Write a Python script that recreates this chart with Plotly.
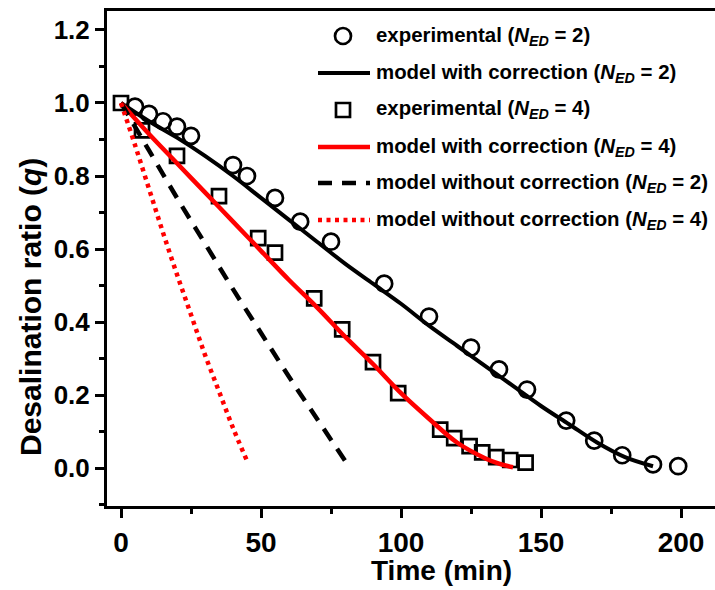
import plotly.graph_objects as go

# ---- data -------------------------------------------------------------
# experimental desalination ratio, N_ED = 2
t_exp2 = [5, 10, 15, 20, 25, 40, 45, 55, 64, 75, 94, 110, 125, 135, 145, 159, 169, 179, 190, 199]
q_exp2 = [0.99, 0.97, 0.95, 0.935, 0.91, 0.83, 0.80, 0.74, 0.675, 0.62, 0.505, 0.415,
          0.33, 0.27, 0.215, 0.13, 0.075, 0.035, 0.01, 0.005]

# experimental desalination ratio, N_ED = 4
t_exp4 = [0, 7.5, 20, 35, 49, 55, 69, 79, 90, 99, 114, 119, 124.5, 129, 134, 139, 144.5]
q_exp4 = [1.0, 0.925, 0.855, 0.745, 0.63, 0.59, 0.465, 0.38, 0.29, 0.205, 0.105, 0.082,
          0.06, 0.043, 0.03, 0.022, 0.015]

# model with correction, N_ED = 2
t_mc2 = [0, 10, 20, 30, 40, 50, 60, 70, 80, 90, 100, 110, 120, 130, 140, 150, 160, 170, 180, 190]
q_mc2 = [1.0, 0.95, 0.905, 0.855, 0.80, 0.74, 0.68, 0.62, 0.56, 0.505, 0.45, 0.39,
         0.335, 0.28, 0.225, 0.17, 0.12, 0.07, 0.03, 0.005]

# model with correction, N_ED = 4
t_mc4 = [0, 10, 20, 30, 40, 50, 60, 70, 80, 90, 100, 110, 120, 130, 135, 140]
q_mc4 = [1.0, 0.915, 0.835, 0.755, 0.675, 0.595, 0.515, 0.44, 0.36, 0.285, 0.205,
         0.135, 0.07, 0.027, 0.012, 0.002]

# model without correction, N_ED = 2
t_mn2 = [0, 10, 20, 30, 40, 50, 60, 70, 80]
q_mn2 = [1.0, 0.87, 0.74, 0.615, 0.49, 0.37, 0.25, 0.135, 0.02]

# model without correction, N_ED = 4
t_mn4 = [0, 5, 10, 15, 20, 25, 30, 35, 40, 45]
q_mn4 = [1.0, 0.885, 0.765, 0.645, 0.53, 0.42, 0.31, 0.21, 0.11, 0.02]

legend_labels = [
    "experimental (<i>N</i><sub><i>ED</i></sub> = 2)",
    "model with correction (<i>N</i><sub><i>ED</i></sub> = 2)",
    "experimental (<i>N</i><sub><i>ED</i></sub> = 4)",
    "model with correction (<i>N</i><sub><i>ED</i></sub> = 4)",
    "model without correction (<i>N</i><sub><i>ED</i></sub> = 2)",
    "model without correction (<i>N</i><sub><i>ED</i></sub> = 4)",
]

x_ticks = [0, 50, 100, 150, 200]
y_ticks = [0.0, 0.2, 0.4, 0.6, 0.8, 1.0, 1.2]
y_ticktext = ["0.0", "0.2", "0.4", "0.6", "0.8", "1.0", "1.2"]

FONT = "Liberation Sans, Arial, sans-serif"
RED = "#ff0000"

# ---- styles per series --------------------------------------------------
circle_style = dict(symbol="circle-open", size=16, color="black", line=dict(width=2.7))
square_style = dict(symbol="square-open", size=14, color="black", line=dict(width=2.7))
solid_black = dict(color="black", width=4)
solid_red = dict(color=RED, width=4.5)
dash_black = dict(color="black", width=4.5, dash="14px,10px")
dot_red = dict(color=RED, width=4.5, dash="4px,4.5px")

fig = go.Figure()

fig.add_trace(go.Scatter(x=t_exp2, y=q_exp2, mode="markers", marker=circle_style))
fig.add_trace(go.Scatter(x=t_mc2, y=q_mc2, mode="lines", line=dict(shape="spline", **solid_black)))
fig.add_trace(go.Scatter(x=t_exp4, y=q_exp4, mode="markers", marker=square_style))
fig.add_trace(go.Scatter(x=t_mc4, y=q_mc4, mode="lines", line=dict(shape="spline", **solid_red)))
fig.add_trace(go.Scatter(x=t_mn2, y=q_mn2, mode="lines", line=dict(shape="spline", **dash_black)))
fig.add_trace(go.Scatter(x=t_mn4, y=q_mn4, mode="lines", line=dict(shape="spline", **dot_red)))

# ---- legend drawn on an overlay axis in plot-fraction units -------------
W, H = 715, 590
L, R, T, B = 107, 0, 11, 84
pw, ph = W - L - R, H - T - B


def fx(px):
    return (px - L) / pw


def fy(py):
    return (H - B - py) / ph


row_y = [36, 73, 110, 147, 183, 220]
line_x0, line_x1, mark_x, text_x = 318, 370, 343, 374

fig.add_trace(go.Scatter(x=[fx(mark_x)], y=[fy(row_y[0])], mode="markers",
                         marker=circle_style, xaxis="x2", yaxis="y2"))
fig.add_trace(go.Scatter(x=[fx(line_x0), fx(line_x1)], y=[fy(row_y[1])] * 2, mode="lines",
                         line=solid_black, xaxis="x2", yaxis="y2"))
fig.add_trace(go.Scatter(x=[fx(mark_x)], y=[fy(row_y[2])], mode="markers",
                         marker=square_style, xaxis="x2", yaxis="y2"))
fig.add_trace(go.Scatter(x=[fx(line_x0), fx(line_x1)], y=[fy(row_y[3])] * 2, mode="lines",
                         line=solid_red, xaxis="x2", yaxis="y2"))
fig.add_trace(go.Scatter(x=[fx(line_x0), fx(line_x1)], y=[fy(row_y[4])] * 2, mode="lines",
                         line=dash_black, xaxis="x2", yaxis="y2"))
fig.add_trace(go.Scatter(x=[fx(line_x0), fx(line_x1)], y=[fy(row_y[5])] * 2, mode="lines",
                         line=dot_red, xaxis="x2", yaxis="y2"))

for label, py in zip(legend_labels, row_y):
    fig.add_annotation(x=fx(text_x), y=fy(py), xref="paper", yref="paper",
                       text=label, showarrow=False, xanchor="left", yanchor="middle",
                       font=dict(family=FONT, size=20.4, color="black", weight="bold"))

# ---- axis titles ----------------------------------------------------------
fig.add_annotation(x=fx(441), y=fy(570), xref="paper", yref="paper",
                   text="Time (min)", showarrow=False, xanchor="center", yanchor="middle",
                   font=dict(family=FONT, size=28, color="black", weight="bold"))
fig.add_annotation(x=fx(30), y=fy(307), xref="paper", yref="paper", textangle=-90,
                   text="Desalination ratio (<i>q</i>)", showarrow=False,
                   xanchor="center", yanchor="middle",
                   font=dict(family=FONT, size=30, color="black", weight="bold"))

axis_common = dict(showgrid=False, zeroline=False, showline=True, linewidth=3,
                   linecolor="black", ticks="outside", tickwidth=3, ticklen=9,
                   tickcolor="black")

fig.update_layout(
    width=W, height=H,
    margin=dict(l=L, r=R, t=T, b=B, pad=0),
    paper_bgcolor="white", plot_bgcolor="white",
    showlegend=False,
    font=dict(family=FONT, color="black"),
    xaxis=dict(range=[-5, 212.14], tickvals=x_ticks, mirror=True,
               tickfont=dict(family=FONT, size=28, color="black", weight="bold"),
               minor=dict(ticks="outside", ticklen=5, tickwidth=2.5, tickcolor="black",
                          tick0=25, dtick=50),
               **axis_common),
    yaxis=dict(range=[-0.104, 1.252], tickvals=y_ticks, ticktext=y_ticktext,
               tickfont=dict(family=FONT, size=26, color="black", weight="bold"),
               minor=dict(ticks="outside", ticklen=5, tickwidth=2.5, tickcolor="black",
                          tick0=0.1, dtick=0.2),
               **axis_common),
    xaxis2=dict(range=[0, 1], overlaying="x", visible=False),
    yaxis2=dict(range=[0, 1], overlaying="y", visible=False),
)

fig.write_html("out.html")
